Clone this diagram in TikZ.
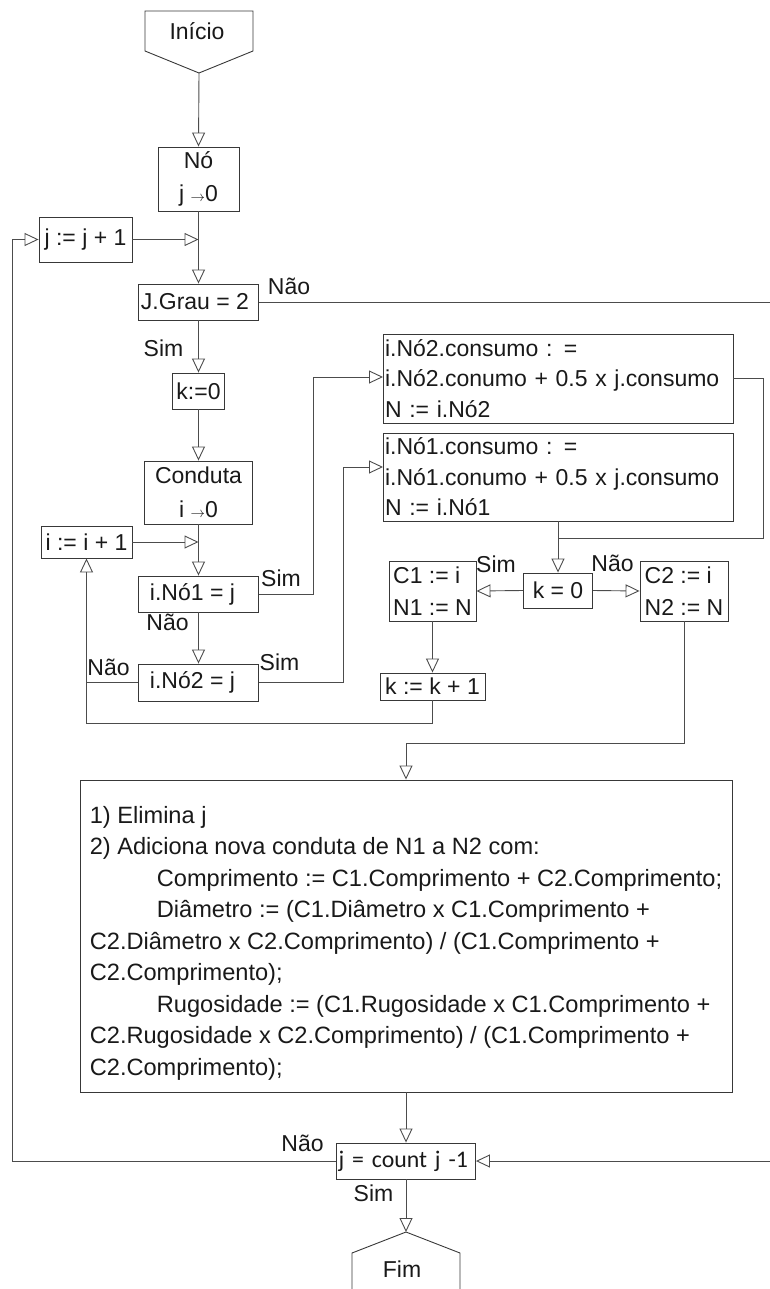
\documentclass[tikz,border=0pt]{standalone}
\usepackage{fontspec}
\setmainfont{Liberation Sans}
\newfontfamily\carlitofont{Carlito}
\usetikzlibrary{arrows.meta}
\newcommand{\smallarrow}{\raisebox{0.5pt}{\fontsize{15}{15}\selectfont$\rightarrow$}}
\begin{document}
\begin{tikzpicture}[x=1pt,y=-1pt,
  every node/.style={text=black!90, font=\fontsize{23}{31}\selectfont},
  box/.style={draw=black!78, line width=0.9pt, rectangle, inner sep=0pt},
  conn/.style={draw=black!70, line width=0.9pt},
  arr/.style={conn, -{Triangle[open,length=14pt,width=13pt]}},
  lbl/.style={inner sep=0pt}]
\useasboundingbox (0,0) rectangle (770,1289);

% start
\draw[draw=black!78, line width=0.9pt] (145,11) -- (253,11) -- (253,51) -- (199,73) -- (145,51) -- cycle;
\node[lbl] (ini) at (197,31) {Início};
\coordinate (initip) at (199,73);

% boxes
\node[box, minimum width=81pt, minimum height=64pt, align=center, font=\fontsize{23}{33}\selectfont] (no) at (198.5,179) {Nó\\j \smallarrow0};
\node[box, minimum width=93pt, minimum height=45pt] (jinc) at (85.5,239.5) {j := j + 1};
\coordinate (jmerge) at (198.5,239.5);
\node[box, minimum width=120pt, minimum height=36pt] (jgrau) at (198.5,302) {J.Grau = 2\hspace*{7pt}};
\node[box, minimum width=52pt, minimum height=36pt] (k0) at (198.5,391) {k:=0};
\node[box, minimum width=108pt, minimum height=63pt, align=center, font=\fontsize{23}{34}\selectfont] (cond) at (198.5,492.5) {Conduta\\i \smallarrow0};
\node[box, minimum width=91pt, minimum height=32pt] (iinc) at (86.5,542) {i := i + 1};
\coordinate (imerge) at (198.5,542);
\node[box, minimum width=120pt, minimum height=36pt] (ino1) at (198.5,594) {i.Nó1 = j\hspace*{12pt}};
\node[box, minimum width=120pt, minimum height=37pt] (ino2) at (198.5,682.5) {i.Nó2 = j\hspace*{12pt}};

\node[box, minimum width=350pt, minimum height=89pt, text width=346pt, align=left, font=\fontsize{23}{30.5}\selectfont] (b2) at (558,378.5) {i.Nó2.consumo : =\\i.Nó2.conumo + 0.5 x j.consumo\\N := i.Nó2};
\node[box, minimum width=350pt, minimum height=88pt, text width=346pt, align=left, font=\fontsize{23}{30.5}\selectfont] (b1) at (558,477) {i.Nó1.consumo : =\\i.Nó1.conumo + 0.5 x j.consumo\\N := i.Nó1};
\coordinate (b2in) at (383,377);
\coordinate (b1in) at (383,467);
\coordinate (jn) at (558,538);

\node[box, minimum width=69pt, minimum height=35pt] (kz) at (558,590.5) {k = 0};
\node[box, minimum width=87pt, minimum height=60pt, align=left, font=\fontsize{23}{32}\selectfont] (c1) at (432.5,591) {C1 := i\\N1 := N};
\node[box, minimum width=88pt, minimum height=60pt, align=left, font=\fontsize{23}{32}\selectfont] (c2) at (684,591) {C2 := i\\N2 := N};
\node[box, minimum width=105pt, minimum height=27pt] (kinc) at (432.5,686.5) {k := k + 1};

\node[box, minimum width=652pt, minimum height=312pt, align=left, font=\fontsize{23.6}{31.5}\selectfont] (big) at (406,936) {\rule{0pt}{31pt}1) Elimina j\\
2) Adiciona nova conduta de N1 a N2 com:\\
\hspace*{67pt}Comprimento := C1.Comprimento + C2.Comprimento;\\
\hspace*{67pt}Diâmetro := (C1.Diâmetro x C1.Comprimento +\\
C2.Diâmetro x C2.Comprimento) / (C1.Comprimento +\\
C2.Comprimento);\\
\hspace*{67pt}Rugosidade := (C1.Rugosidade x C1.Comprimento +\\
C2.Rugosidade x C2.Comprimento) / (C1.Comprimento +\\
C2.Comprimento);};

\node[box, minimum width=139pt, minimum height=36pt, text width=135pt, align=left, font={\carlitofont\fontsize{23.8}{30}\selectfont}] (cnt) at (406,1161) {j = count j -1};

% end
\coordinate (fimtip) at (406,1232);
\draw[draw=black!78, line width=0.9pt] (352,1300) -- (352,1253) -- (fimtip) -- (460,1253) -- (460,1300);
\node[lbl] (fim) at (402,1269) {Fim};

\coordinate (lx) at (12.5,0);
\coordinate (rr) at (776,0);

% labels
\node[lbl] (lNao1) at (289,286) {Não};
\node[lbl] (lSim1) at (163.5,348) {Sim};
\node[lbl] (lSim2) at (281,578) {Sim};
\node[lbl] (lNao2) at (167.5,622) {Não};
\node[lbl] (lNao3) at (108.5,667) {Não};
\node[lbl] (lSim3) at (279.5,662) {Sim};
\node[lbl] (lSim4) at (496,564) {Sim};
\node[lbl] (lNao4) at (612.5,563) {Não};
\node[lbl] (lNao5) at (302.5,1143) {Não};
\node[lbl] (lSim5) at (373.5,1193) {Sim};

% connectors
\draw[arr] (initip) -- (no.north);
\draw[arr] (no.south) -- (jgrau.north);
\draw[arr] (jinc.east) -- (jmerge);
\draw[arr] (jgrau.south) -- (k0.north);
\draw[arr] (k0.south) -- (cond.north);
\draw[arr] (cond.south) -- (ino1.north);
\draw[arr] (iinc.east) -- (imerge);
\draw[arr] (ino1.south) -- (ino2.north);
\draw[arr] (ino1.east) -| ([xshift=-70pt]b2in) -- (b2in);
\draw[arr] (ino2.east) -| ([xshift=-40pt]b1in) -- (b1in);
\draw[conn] (b2.east) -| ([xshift=205pt]jn) -- (jn);
\draw[arr] (b1.south) -- (kz.north);
\draw[arr] (kz.west) -- (c1.east);
\draw[arr] (kz.east) -- (c2.west);
\draw[arr] (c1.south) -- (kinc.north);
\draw[arr] (kinc.south) -- ++(0,23) -| (iinc.south);
\draw[conn] (ino2.west) -- (ino2.west -| iinc.south);
\draw[arr] (c2.south) -- ++(0,122) -| (big.north);
\draw[arr] (big.south) -- (cnt.north);
\draw[arr] (cnt.south) -- (fimtip);
\draw[arr] (jgrau.east) -| (rr |- cnt.east) -- (cnt.east);
\draw[arr] (cnt.west) -| (lx |- jinc.west) -- (jinc.west);
\end{tikzpicture}
\end{document}
